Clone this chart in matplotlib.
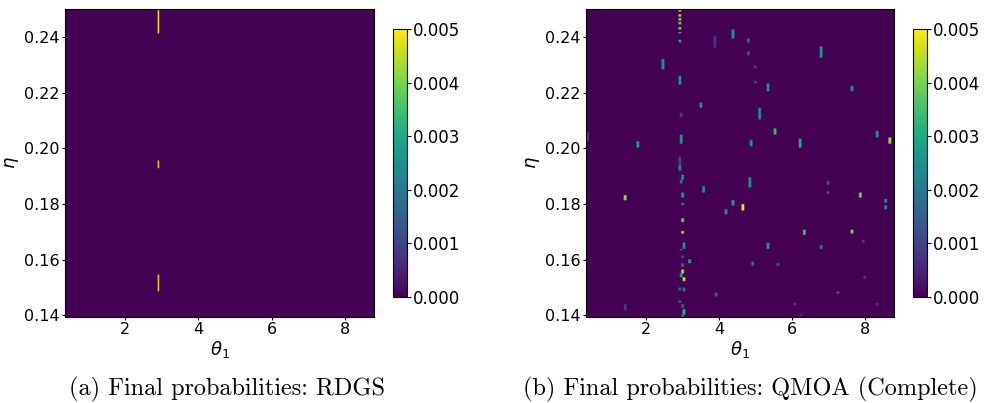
import numpy as np
import matplotlib
matplotlib.use('Agg')
import matplotlib.pyplot as plt

theta_min, theta_max = 0.365, 8.79
eta_min, eta_max = 0.1393, 0.2502
nx, ny = 220, 240

# RDGS: three streaks at theta ~ 2.9  (theta, eta_low, eta_high, value)
rdgs_theta = [2.90, 2.91, 2.91]
rdgs_lo = [0.2412, 0.1930, 0.1485]
rdgs_hi = [0.2502, 0.1958, 0.1547]
rdgs_val = [0.0049, 0.0047, 0.0047]

# QMOA spots (theta, eta centre, half height, value)
q_theta = [2.895, 2.895, 2.895, 2.895, 2.895, 2.895, 2.895,
           2.93, 2.94, 2.94, 2.91, 2.93, 2.97, 2.95, 2.97, 2.97, 3.00, 3.00,
           3.04, 2.95, 2.97, 2.99, 3.00, 2.94, 3.02, 2.93, 3.04, 2.93, 2.97, 3.02, 3.00,
           2.457, 3.48, 4.37, 4.80, 4.80, 4.99, 4.99, 5.31, 5.10, 6.79, 7.63,
           5.51, 4.85, 6.22, 8.32, 8.66, 1.75, 1.42, 3.55, 4.81, 4.35, 4.19,
           4.62, 6.97, 6.97, 7.84, 8.53, 8.53, 6.31, 7.61, 5.31, 6.77, 7.94,
           4.91, 5.61, 3.92, 7.24, 6.04, 6.24, 7.97, 8.32, 1.42, 3.19, 3.85, 0.37]
q_eta = [0.2498, 0.2480, 0.2466, 0.2450, 0.2432, 0.2417, 0.2387,
         0.2246, 0.2120, 0.2033, 0.1946, 0.1928, 0.1898, 0.1880, 0.1832, 0.1799, 0.1742, 0.1698,
         0.1650, 0.1636, 0.1610, 0.1580, 0.1556, 0.1543, 0.1528, 0.1496, 0.1492, 0.1448, 0.1432, 0.1412, 0.1398,
         0.2303, 0.2156, 0.2412, 0.2388, 0.2342, 0.2294, 0.2237, 0.2220, 0.2126, 0.2348, 0.2216,
         0.2060, 0.2020, 0.2018, 0.2052, 0.2028, 0.2015, 0.1824, 0.1853, 0.1880, 0.1805, 0.1771,
         0.1788, 0.1877, 0.1841, 0.1832, 0.1810, 0.1788, 0.1698, 0.1700, 0.1649, 0.1644, 0.1667,
         0.1586, 0.1582, 0.1474, 0.1480, 0.1440, 0.1400, 0.1535, 0.1440, 0.1428, 0.1595, 0.2385, 0.2042]
q_half = [0.0004, 0.0004, 0.0004, 0.0004, 0.0004, 0.0004, 0.0004,
          0.0015, 0.0006, 0.0015, 0.0025, 0.0010, 0.0010, 0.0006, 0.0008, 0.0005, 0.0006, 0.0006,
          0.0012, 0.0004, 0.0004, 0.0005, 0.0006, 0.0006, 0.0006, 0.0005, 0.0006, 0.0006, 0.0005, 0.0010, 0.0005,
          0.0018, 0.0010, 0.0015, 0.0008, 0.0006, 0.0006, 0.0005, 0.0014, 0.0020, 0.0022, 0.0010,
          0.0012, 0.0012, 0.0016, 0.0010, 0.0010, 0.0012, 0.0010, 0.0010, 0.0018, 0.0010, 0.0010,
          0.0010, 0.0006, 0.0006, 0.0010, 0.0008, 0.0008, 0.0008, 0.0008, 0.0012, 0.0006, 0.0004,
          0.0007, 0.0006, 0.0006, 0.0006, 0.0004, 0.0004, 0.0004, 0.0004, 0.0010, 0.0008, 0.0020, 0.0015]
q_val = [0.0045, 0.0042, 0.0040, 0.0038, 0.0038, 0.0035, 0.0030,
         0.0025, 0.0010, 0.0025, 0.0010, 0.0022, 0.0025, 0.0018, 0.0025, 0.0020, 0.0040, 0.0045,
         0.0025, 0.0018, 0.0012, 0.0018, 0.0045, 0.0025, 0.0045, 0.0018, 0.0018, 0.0015, 0.0015, 0.0032, 0.0020,
         0.0025, 0.0025, 0.0025, 0.0018, 0.0015, 0.0012, 0.0012, 0.0025, 0.0025, 0.0025, 0.0025,
         0.0033, 0.0025, 0.0030, 0.0025, 0.0042, 0.0028, 0.0042, 0.0025, 0.0025, 0.0028, 0.0025,
         0.0048, 0.0012, 0.0015, 0.0040, 0.0025, 0.0025, 0.0035, 0.0040, 0.0025, 0.0020, 0.0010,
         0.0020, 0.0015, 0.0015, 0.0015, 0.0010, 0.0010, 0.0010, 0.0008, 0.0008, 0.0030, 0.0008, 0.0012]


def build_grid(thetas, lo, hi, vals, width=1):
    grid = np.zeros((ny, nx))
    for t, a, b, v in zip(thetas, lo, hi, vals):
        c = int((t - theta_min) / (theta_max - theta_min) * nx)
        r0 = int(round((a - eta_min) / (eta_max - eta_min) * ny))
        r1 = int(round((b - eta_min) / (eta_max - eta_min) * ny))
        r0, r1 = max(r0, 0), min(max(r1, r0 + 1), ny)
        c0 = min(max(c, 0), nx - width)
        grid[r0:r1, c0:c0 + width] = np.maximum(grid[r0:r1, c0:c0 + width], v)
    return grid


grid_a = build_grid(rdgs_theta, rdgs_lo, rdgs_hi, rdgs_val)
q_lo = [e - h for e, h in zip(q_eta, q_half)]
q_hi = [e + h for e, h in zip(q_eta, q_half)]
grid_b = build_grid(q_theta, q_lo, q_hi, q_val, width=2)

fig = plt.figure(figsize=(9.84, 4.03), dpi=100)
ax_pos = [[0.0661, 0.2134, 0.314, 0.764], [0.5955, 0.2134, 0.313, 0.764]]
cb_pos = [[0.3994, 0.263, 0.0142, 0.665], [0.928, 0.263, 0.0142, 0.665]]
captions = ['(a) Final probabilities: RDGS', '(b) Final probabilities: QMOA (Complete)']
cap_x = [0.231, 0.763]

for i, grid in enumerate([grid_a, grid_b]):
    ax = fig.add_axes(ax_pos[i])
    im = ax.imshow(grid, origin='lower', aspect='auto', cmap='viridis',
                   vmin=0, vmax=0.005, interpolation='bilinear',
                   extent=[theta_min, theta_max, eta_min, eta_max])
    ax.set_xticks([2, 4, 6, 8])
    ax.set_yticks([0.14, 0.16, 0.18, 0.20, 0.22, 0.24])
    ax.set_yticklabels(['0.14', '0.16', '0.18', '0.20', '0.22', '0.24'])
    ax.tick_params(labelsize=11.5, length=2.5, pad=1.2)
    ax.set_xlabel(r'$\theta_1$', fontsize=13, labelpad=1)
    ax.set_ylabel(r'$\eta$', fontsize=13, labelpad=2)
    cax = fig.add_axes(cb_pos[i])
    cb = fig.colorbar(im, cax=cax, ticks=[0, 0.001, 0.002, 0.003, 0.004, 0.005])
    cb.ax.set_yticklabels(['0.000', '0.001', '0.002', '0.003', '0.004', '0.005'])
    cb.ax.tick_params(labelsize=12, length=3, pad=1)
    fig.text(cap_x[i], 0.033, captions[i], ha='center', va='center',
             fontsize=17.5, fontname='cmr10')

fig.savefig('out.png', dpi=100)
